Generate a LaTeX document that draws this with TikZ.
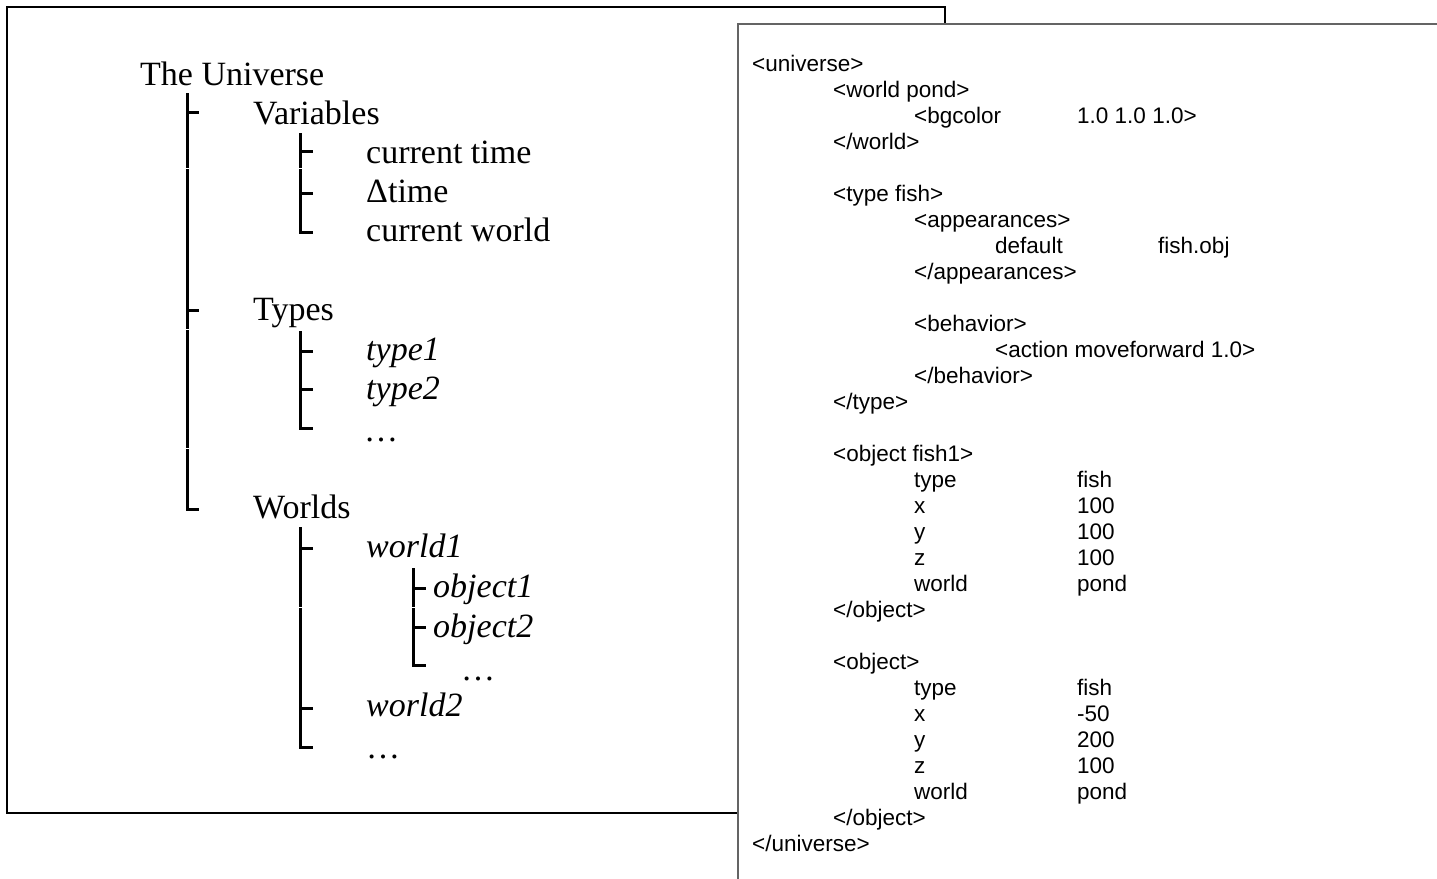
\documentclass[tikz,border=0pt]{standalone}
\usepackage{fontspec}
\setmainfont{Liberation Serif}
\newfontfamily\arialfont{Liberation Sans}
\definecolor{boxgray}{RGB}{100,100,100}
\tikzset{
  treetext/.style={font=\fontsize{34}{40}\selectfont, anchor=base west, inner sep=0pt},
  treeit/.style={font=\fontsize{34}{40}\selectfont\itshape, anchor=base west, inner sep=0pt},
  codetext/.style={font=\arialfont\fontsize{22.5}{26}\selectfont, anchor=base west, inner sep=0pt},
  branch/.style={line width=3pt, line join=miter},
  leftbox/.style={draw=black, line width=2pt},
  rightbox/.style={fill=white, draw=boxgray, line width=2pt}
}
\begin{document}
\begin{tikzpicture}[x=1pt,y=-1pt]
\fill[white] (0,0) rectangle (1437,878);
\clip (0,0) rectangle (1437,878);
% boxes
\draw[leftbox] (7,7) rectangle (945,813);
% ---------- tree ----------
\node[treetext] (uni) at (140,85) {The Universe};
\node[treetext] (vars) at (253,124) {Variables};
\node[treetext] (ctime) at (366,163) {current time};
\node[treetext] (dtime) at (366,202) {Δtime};
\node[treetext] (cworld) at (366,241) {current world};
\node[treetext] (types) at (253,320) {Types};
\node[treeit] (type1) at (366,360) {type1};
\node[treeit] (type2) at (366,399) {type2};
\node[treetext] (tdots) at (364,441) {…};
\node[treetext] (worlds) at (253,518) {Worlds};
\node[treeit] (world1) at (366,557) {world1};
\node[treeit] (obj1) at (433,597) {object1};
\node[treeit] (obj2) at (433,637) {object2};
\node[treetext] (odots) at (461,680) {…};
\node[treeit] (world2) at (366,716) {world2};
\node[treetext] (wdots) at (366,758) {…};
% main trunk
\draw[branch] (187,93) -- (187,167.5);
\draw[branch] (187,169) -- (187,328.5);
\draw[branch] (187,330) -- (187,447.5);
\draw[branch] (187,449) -- (187,509) -- (199,509);
\draw[branch] (187,112) -- (199,112);
\draw[branch] (187,310) -- (199,310);
% variables
\draw[branch] (300,133) -- (300,167.5);
\draw[branch] (300,169) -- (300,232) -- (313,232);
\draw[branch] (300,151) -- (313,151);
\draw[branch] (300,193) -- (313,193);
% types
\draw[branch] (300,331) -- (300,428) -- (313,428);
\draw[branch] (300,351) -- (313,351);
\draw[branch] (300,389) -- (313,389);
% worlds
\draw[branch] (300,527) -- (300,606.5);
\draw[branch] (300,608) -- (300,747) -- (313,747);
\draw[branch] (300,548) -- (313,548);
\draw[branch] (300,708) -- (313,708);
% objects
\draw[branch] (413,568) -- (413,606.5);
\draw[branch] (413,608) -- (413,665) -- (426,665);
\draw[branch] (413,588) -- (426,588);
\draw[branch] (413,627) -- (426,627);
% ---------- right box ----------
\draw[rightbox] (738,24) rectangle (1460,900);
\node[codetext] (c0) at (752,71) {<universe>};
\node[codetext] (c1) at (833,97) {<world pond>};
\node[codetext] (c2) at (914,123) {<bgcolor};
\node[codetext] (c2v) at (1077,123) {1.0 1.0 1.0>};
\node[codetext] (c3) at (833,149) {</world>};
\node[codetext] (c5) at (833,201) {<type fish>};
\node[codetext] (c6) at (914,227) {<appearances>};
\node[codetext] (c7) at (995,253) {default};
\node[codetext] (c7v) at (1158,253) {fish.obj};
\node[codetext] (c8) at (914,279) {</appearances>};
\node[codetext] (c10) at (914,331) {<behavior>};
\node[codetext] (c11) at (995,357) {<action moveforward 1.0>};
\node[codetext] (c12) at (914,383) {</behavior>};
\node[codetext] (c13) at (833,409) {</type>};
\node[codetext] (c15) at (833,461) {<object fish1>};
\node[codetext] (c16) at (914,487) {type};
\node[codetext] (c16v) at (1077,487) {fish};
\node[codetext] (c17) at (914,513) {x};
\node[codetext] (c17v) at (1077,513) {100};
\node[codetext] (c18) at (914,539) {y};
\node[codetext] (c18v) at (1077,539) {100};
\node[codetext] (c19) at (914,565) {z};
\node[codetext] (c19v) at (1077,565) {100};
\node[codetext] (c20) at (914,591) {world};
\node[codetext] (c20v) at (1077,591) {pond};
\node[codetext] (c21) at (833,617) {</object>};
\node[codetext] (c23) at (833,669) {<object>};
\node[codetext] (c24) at (914,695) {type};
\node[codetext] (c24v) at (1077,695) {fish};
\node[codetext] (c25) at (914,721) {x};
\node[codetext] (c25v) at (1077,721) {-50};
\node[codetext] (c26) at (914,747) {y};
\node[codetext] (c26v) at (1077,747) {200};
\node[codetext] (c27) at (914,773) {z};
\node[codetext] (c27v) at (1077,773) {100};
\node[codetext] (c28) at (914,799) {world};
\node[codetext] (c28v) at (1077,799) {pond};
\node[codetext] (c29) at (833,825) {</object>};
\node[codetext] (c30) at (752,851) {</universe>};
\end{tikzpicture}
\end{document}
